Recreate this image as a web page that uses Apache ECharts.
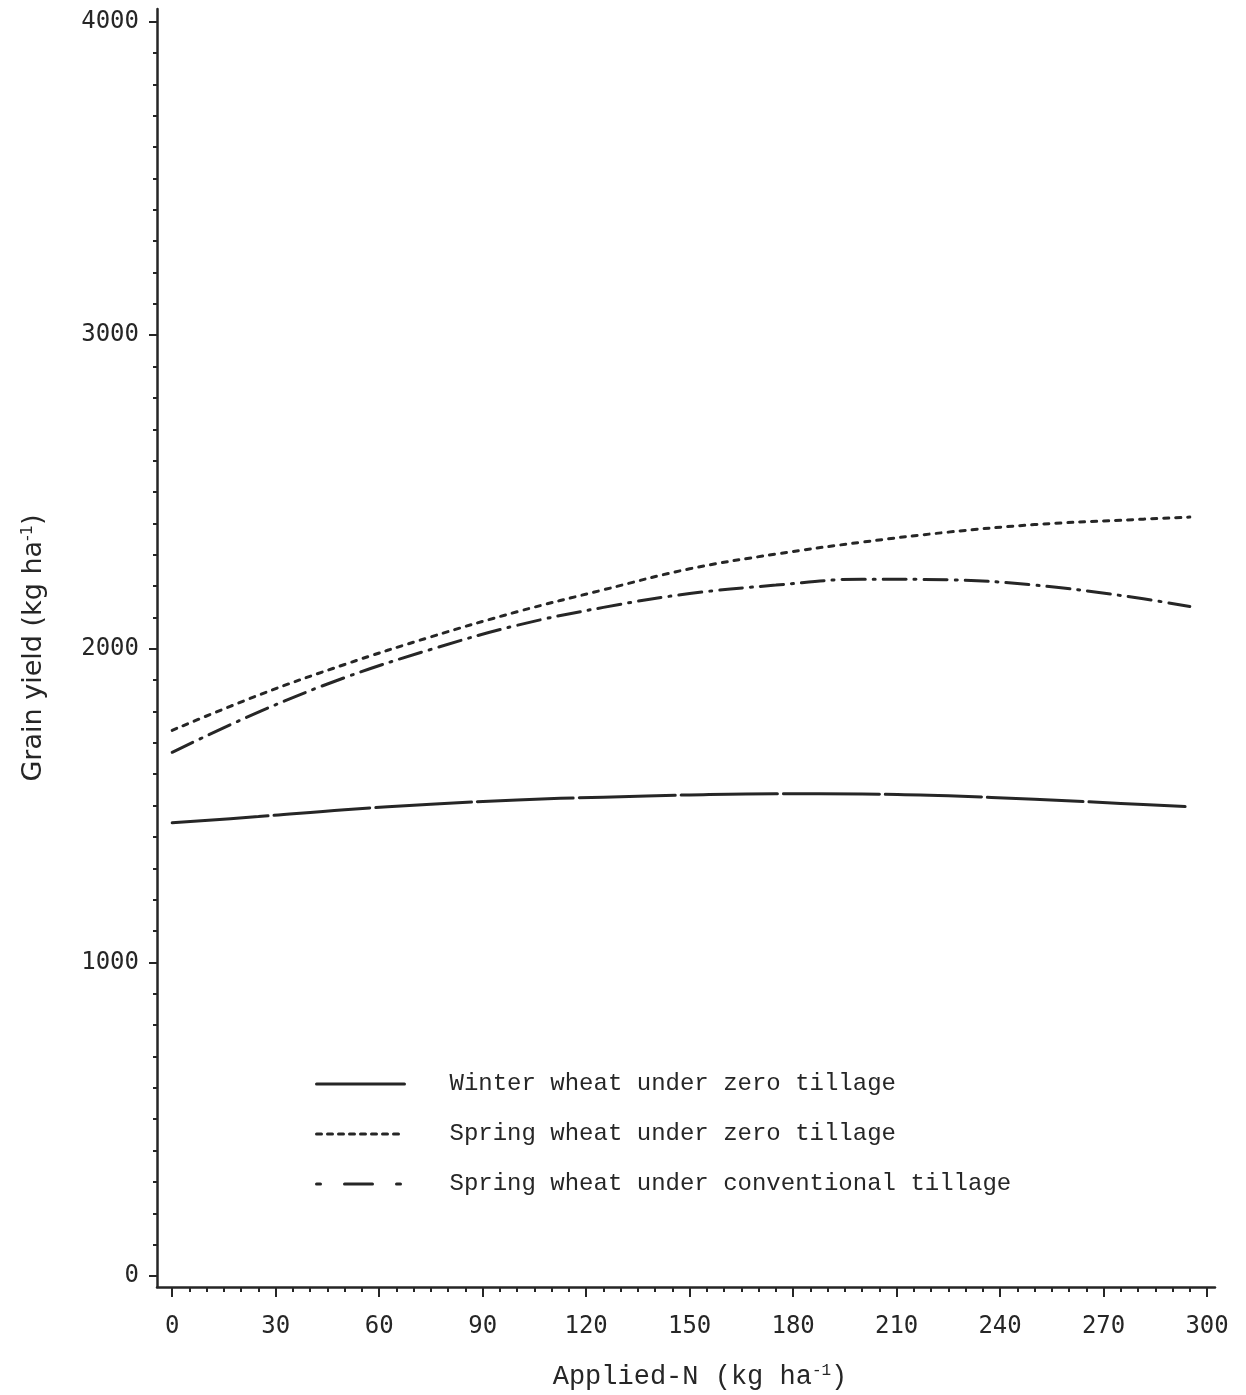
<!DOCTYPE html>
<html>
<head>
<meta charset="utf-8">
<title>Grain yield vs applied N</title>
<script src="https://cdn.jsdelivr.net/npm/echarts@6/dist/echarts.min.js"></script>
<style>
  html, body { margin: 0; padding: 0; background: #fff; }
  #chart { width: 1246px; height: 1395px; }
</style>
</head>
<body>
<div id="chart"></div>
<script>
// Applied nitrogen (kg/ha) at which the fitted response curves are sampled
const nApplied = [0, 25, 50, 75, 100, 125, 150, 175, 200, 225, 250, 275, 295];

// Grain yield (kg/ha) for each treatment
const winterZero = [1445, 1465, 1487, 1504, 1518, 1527, 1534, 1538, 1537, 1531, 1520, 1507, 1496];
const springZero = [1740, 1852, 1950, 2038, 2118, 2188, 2255, 2302, 2340, 2372, 2396, 2410, 2420];
const springConv = [1670, 1798, 1908, 1998, 2075, 2132, 2176, 2203, 2222, 2220, 2203, 2170, 2135];

const seriesNames = [
  'Winter wheat under zero tillage',
  'Spring wheat under zero tillage',
  'Spring wheat under conventional tillage'
];

// Axis tick positions
const xMajorTicks = [0, 30, 60, 90, 120, 150, 180, 210, 240, 270, 300];
const yMajorTicks = [0, 1000, 2000, 3000, 4000];
const xMinorTicks = [];
for (let v = 0; v <= 300; v += 5) xMinorTicks.push(v);
const yMinorTicks = [];
for (let v = 0; v <= 4000; v += 100) yMinorTicks.push(v);

const ink = '#262626';
const X_MIN = -4.4, X_MAX = 302.3, Y_MIN = -35, Y_MAX = 4040;

function pairs(ys) { return nApplied.map((n, i) => [n, ys[i]]); }

const tickFont = { fontFamily: 'DejaVu Sans Mono', fontSize: 24, color: ink, formatter: v => String(v) };

const chart = echarts.init(document.getElementById('chart'), null, { renderer: 'canvas' });
chart.setOption({
  backgroundColor: '#ffffff',
  animation: false,
  color: [ink, ink, ink],
  grid: { left: 157, right: 31, top: 9, bottom: 104 },
  xAxis: [
    {
      type: 'value', min: X_MIN, max: X_MAX,
      name: 'Applied-N (kg ha{sup|-1})',
      nameLocation: 'middle', nameGap: 76,
      nameTextStyle: {
        fontFamily: 'Liberation Mono', fontSize: 27, color: ink, padding: [0, 0, 0, 28],
        rich: { sup: { fontFamily: 'Liberation Mono', fontSize: 16, color: ink, verticalAlign: 'top', padding: [0, 0, 10, 0] } }
      },
      splitLine: { show: false },
      axisLine: { show: true, onZero: false, lineStyle: { color: ink, width: 2.5 } },
      axisTick: { show: true, customValues: xMajorTicks, length: 10, lineStyle: { color: ink, width: 2 } },
      axisLabel: { show: true, customValues: xMajorTicks, margin: 28, ...tickFont }
    },
    {
      type: 'value', min: X_MIN, max: X_MAX, position: 'bottom', offset: 0,
      splitLine: { show: false },
      axisLine: { show: false, onZero: false },
      axisTick: { show: true, customValues: xMinorTicks, length: 5, lineStyle: { color: ink, width: 2 } },
      axisLabel: { show: false }
    }
  ],
  yAxis: [
    {
      type: 'value', min: Y_MIN, max: Y_MAX,
      name: 'Grain yield (kg ha{sup|-1})',
      nameLocation: 'middle', nameGap: 110, nameRotate: 90,
      nameTextStyle: {
        fontFamily: 'DejaVu Sans', fontSize: 27, color: ink,
        rich: { sup: { fontFamily: 'DejaVu Sans', fontSize: 16, color: ink, verticalAlign: 'top', padding: [0, 0, 10, 0] } }
      },
      splitLine: { show: false },
      axisLine: { show: true, onZero: false, lineStyle: { color: ink, width: 2.5 } },
      axisTick: { show: true, customValues: yMajorTicks, length: 8, lineStyle: { color: ink, width: 2 } },
      axisLabel: { show: true, customValues: yMajorTicks, margin: 18, ...tickFont }
    },
    {
      type: 'value', min: Y_MIN, max: Y_MAX, position: 'left', offset: 0,
      splitLine: { show: false },
      axisLine: { show: false, onZero: false },
      axisTick: { show: true, customValues: yMinorTicks, length: 4, lineStyle: { color: ink, width: 2 } },
      axisLabel: { show: false }
    }
  ],
  legend: {
    orient: 'vertical',
    left: 310, top: 1066,
    itemWidth: 88, itemHeight: 14, itemGap: 24,
    itemStyle: { color: 'rgba(0,0,0,0)', borderWidth: 0, opacity: 0 },
    lineStyle: { color: ink, width: 3 },
    textStyle: { fontFamily: 'Liberation Mono', fontSize: 24, color: ink, lineHeight: 26, padding: [0, 0, 0, 40] },
    data: [
      { name: seriesNames[0], lineStyle: { type: 'solid', width: 3 } },
      { name: seriesNames[1], lineStyle: { type: [5, 6], cap: 'round', width: 3 } },
      { name: seriesNames[2], lineStyle: { type: [4, 24, 28, 24], cap: 'round', width: 3 } }
    ]
  },
  series: [
    {
      name: seriesNames[0], type: 'line', data: pairs(winterZero),
      smooth: 0.4, symbol: 'none', xAxisIndex: 0, yAxisIndex: 0,
      lineStyle: { color: ink, width: 3, type: [96, 6], cap: 'round' }
    },
    {
      name: seriesNames[1], type: 'line', data: pairs(springZero),
      smooth: 0.4, symbol: 'none', xAxisIndex: 0, yAxisIndex: 0,
      lineStyle: { color: ink, width: 3, type: [5, 7], cap: 'round' }
    },
    {
      name: seriesNames[2], type: 'line', data: pairs(springConv),
      smooth: 0.4, symbol: 'none', xAxisIndex: 0, yAxisIndex: 0,
      lineStyle: { color: ink, width: 3, type: [23, 8, 2, 8], cap: 'round' }
    }
  ]
});
</script>
</body>
</html>
